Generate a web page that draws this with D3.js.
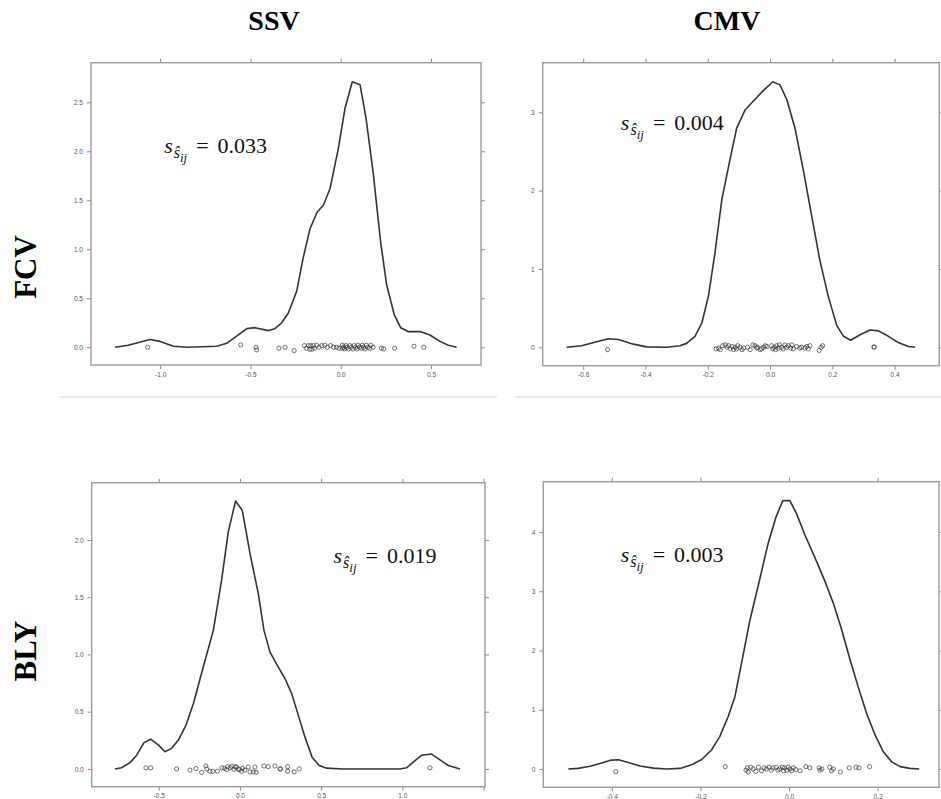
<!DOCTYPE html>
<html>
<head>
<meta charset="utf-8">
<script src="https://cdn.jsdelivr.net/npm/d3@7"></script>
<style>
  html, body { margin: 0; padding: 0; background: #fff; }
  svg { display: block; }
</style>
</head>
<body>
<svg id="chart" width="941" height="799"></svg>
<script>
// ---------------- DATA ----------------
const columnTitles = ["SSV", "CMV"];
const rowTitles = ["FCV", "BLY"];

// density curves [x, density]
const fcvSsvCurve = [[-1.25,0],[-1.177,0.02],[-1.056,0.08],[-1.0,0.06],[-0.927,0.01],[-0.85,0],[-0.687,0.01],[-0.631,0.04],[-0.558,0.14],[-0.52,0.19],[-0.475,0.2],[-0.4,0.17],[-0.364,0.19],[-0.327,0.25],[-0.29,0.35],[-0.244,0.57],[-0.207,0.92],[-0.17,1.21],[-0.13,1.38],[-0.096,1.45],[-0.059,1.62],[-0.013,2.03],[0.024,2.44],[0.064,2.71],[0.107,2.68],[0.14,2.34],[0.18,1.78],[0.22,1.09],[0.254,0.64],[0.297,0.33],[0.332,0.2],[0.374,0.16],[0.44,0.16],[0.494,0.125],[0.55,0.06],[0.596,0.02],[0.642,0]];
const fcvCmvCurve = [[-0.653,0],[-0.605,0.02],[-0.557,0.07],[-0.519,0.11],[-0.487,0.1],[-0.439,0.04],[-0.396,0.005],[-0.332,0],[-0.289,0.02],[-0.268,0.05],[-0.241,0.14],[-0.219,0.31],[-0.198,0.65],[-0.177,1.2],[-0.155,1.88],[-0.131,2.35],[-0.107,2.8],[-0.08,3.03],[-0.054,3.14],[-0.021,3.28],[0.009,3.39],[0.032,3.35],[0.054,3.16],[0.08,2.8],[0.107,2.26],[0.134,1.67],[0.16,1.11],[0.187,0.65],[0.214,0.28],[0.236,0.14],[0.259,0.09],[0.289,0.16],[0.321,0.22],[0.348,0.21],[0.38,0.14],[0.412,0.06],[0.444,0.01],[0.466,0]];
const blySsvCurve = [[-0.77,0],[-0.729,0.01],[-0.677,0.055],[-0.636,0.12],[-0.591,0.23],[-0.55,0.26],[-0.503,0.21],[-0.462,0.15],[-0.421,0.18],[-0.38,0.25],[-0.333,0.38],[-0.287,0.57],[-0.226,0.89],[-0.164,1.21],[-0.113,1.65],[-0.072,2.07],[-0.027,2.34],[0.014,2.26],[0.062,1.88],[0.113,1.53],[0.148,1.21],[0.185,1.02],[0.236,0.89],[0.277,0.79],[0.318,0.66],[0.359,0.47],[0.4,0.28],[0.445,0.1],[0.488,0.03],[0.534,0.007],[0.636,0],[0.985,0],[1.026,0.01],[1.067,0.06],[1.119,0.12],[1.18,0.13],[1.232,0.08],[1.283,0.03],[1.355,0]];
const blyCmvCurve = [[-0.498,0],[-0.476,0.01],[-0.449,0.045],[-0.423,0.1],[-0.401,0.15],[-0.385,0.155],[-0.363,0.11],[-0.336,0.05],[-0.306,0.015],[-0.276,0],[-0.246,0.01],[-0.22,0.07],[-0.197,0.16],[-0.175,0.32],[-0.156,0.55],[-0.137,0.89],[-0.122,1.22],[-0.107,1.79],[-0.088,2.52],[-0.069,3.11],[-0.047,3.81],[-0.029,4.26],[-0.014,4.53],[0.002,4.53],[0.017,4.31],[0.036,3.95],[0.059,3.56],[0.081,3.17],[0.1,2.8],[0.119,2.35],[0.138,1.84],[0.156,1.39],[0.175,0.94],[0.194,0.58],[0.213,0.29],[0.232,0.12],[0.251,0.04],[0.273,0.01],[0.294,0]];

// observed points [x, jittered y]
const fcvSsvPoints = [[-1.069,0],[-0.554,0.024],[-0.469,0],[-0.466,-0.027],[-0.342,-0.01],[-0.308,0],[-0.258,-0.034],[-0.201,0.017],[-0.19,-0.01],[-0.179,0.017],[-0.172,-0.02],[-0.166,0.017],[-0.16,-0.02],[-0.152,0.017],[-0.145,-0.01],[-0.134,0.02],[-0.12,0],[-0.105,0.017],[-0.088,0.02],[-0.075,0],[-0.056,0.017],[-0.04,0],[-0.023,0],[-0.01,-0.01],[0.009,0.02],[0.009,-0.01],[0.016,0],[0.022,-0.017],[0.029,0.017],[0.035,0],[0.042,-0.017],[0.05,0.017],[0.058,0],[0.068,-0.017],[0.075,0.017],[0.083,0],[0.09,-0.017],[0.096,0.02],[0.104,0],[0.114,-0.01],[0.12,0.02],[0.127,0],[0.135,-0.017],[0.142,0.02],[0.15,0],[0.16,-0.01],[0.167,0.02],[0.179,0],[0.225,-0.01],[0.238,-0.017],[0.299,-0.01],[0.406,0.01],[0.46,0]];
const fcvCmvPoints = [[-0.522,-0.03],[-0.173,-0.02],[-0.165,-0.01],[-0.16,-0.03],[-0.152,0.02],[-0.144,0.03],[-0.138,0],[-0.133,0.02],[-0.128,-0.02],[-0.122,0.01],[-0.117,-0.03],[-0.112,0],[-0.108,-0.02],[-0.104,0.02],[-0.096,0],[-0.09,-0.03],[-0.085,-0.01],[-0.072,0],[-0.064,-0.03],[-0.055,0.03],[-0.048,0.02],[-0.043,-0.01],[-0.04,0],[-0.032,-0.03],[-0.027,-0.02],[-0.021,0],[-0.015,0.02],[-0.01,0.01],[0.005,0.02],[0.009,-0.02],[0.013,0],[0.018,-0.03],[0.021,0.02],[0.026,-0.01],[0.03,0.03],[0.037,0],[0.042,-0.02],[0.048,0.03],[0.053,0],[0.059,0.02],[0.066,-0.01],[0.07,0.03],[0.075,-0.02],[0.085,0.01],[0.095,-0.01],[0.101,0],[0.112,-0.01],[0.118,0.01],[0.123,-0.02],[0.128,0.02],[0.158,-0.04],[0.164,0],[0.169,0.02],[0.334,0],[0.334,0.005]];
const blySsvPoints = [[-0.579,0.01],[-0.55,0.01],[-0.39,0],[-0.308,-0.01],[-0.271,0.003],[-0.236,-0.03],[-0.21,0.026],[-0.205,0],[-0.185,-0.02],[-0.168,-0.02],[-0.139,-0.02],[-0.111,0.01],[-0.095,0.005],[-0.082,-0.006],[-0.076,0.02],[-0.06,0.01],[-0.051,0.023],[-0.037,-0.003],[-0.03,0.02],[-0.021,0.017],[-0.01,0],[-0.004,-0.006],[0.01,-0.02],[0.016,0.006],[0.03,-0.01],[0.051,0.017],[0.062,-0.026],[0.082,-0.026],[0.092,0.017],[0.099,-0.03],[0.148,0.026],[0.174,0.02],[0.215,0.026],[0.246,0],[0.25,0],[0.293,0.02],[0.293,-0.02],[0.334,-0.026],[0.365,0],[1.17,0.01]];
const blyCmvPoints = [[-0.391,-0.045],[-0.144,0.04],[-0.097,-0.02],[-0.094,0.02],[-0.092,-0.05],[-0.086,0.03],[-0.081,0],[-0.075,-0.04],[-0.069,0.03],[-0.062,-0.03],[-0.056,0.02],[-0.051,0],[-0.045,0.03],[-0.04,-0.02],[-0.036,0.02],[-0.029,0.03],[-0.025,-0.02],[-0.021,0],[-0.015,0.03],[-0.012,-0.03],[-0.01,0.02],[-0.005,-0.02],[-0.002,0.03],[0.002,0],[0.006,-0.03],[0.01,0.02],[0.015,-0.01],[0.025,-0.03],[0.038,0.04],[0.047,0.02],[0.068,0.02],[0.07,-0.02],[0.074,0],[0.092,0.03],[0.096,-0.03],[0.1,0],[0.116,-0.05],[0.136,0.02],[0.151,0.03],[0.158,0.02],[0.182,0.04]];

// tick values
const fcvSsvXTicks = [-1.0, -0.5, 0.0, 0.5];
const fcvSsvYTicks = [0, 0.5, 1.0, 1.5, 2.0, 2.5];
const fcvCmvXTicks = [-0.6, -0.4, -0.2, 0.0, 0.2, 0.4];
const fcvCmvYTicks = [0, 1, 2, 3];
const blySsvXTicks = [-0.5, 0.0, 0.5, 1.0, 1.5];
const blySsvYTicks = [0, 0.5, 1.0, 1.5, 2.0];
const blyCmvXTicks = [-0.4, -0.2, 0.0, 0.2];
const blyCmvYTicks = [0, 1, 2, 3, 4];

// annotation values (standard deviation)
const sdValues = ["0.033", "0.004", "0.019", "0.003"];

// ---------------- LAYOUT ----------------
const panels = [
  { curve: fcvSsvCurve, pts: fcvSsvPoints, xt: fcvSsvXTicks, yt: fcvSsvYTicks, xLab: [-1.0,-0.5,0.0,0.5], yDec: 1,
    box: [91, 62.7, 481, 365], xd: [-1.383, 0.777], yd: [-0.181, 2.904], ann: [-0.978, 1.98], sd: sdValues[0] },
  { curve: fcvCmvCurve, pts: fcvCmvPoints, xt: fcvCmvXTicks, yt: fcvCmvYTicks, xLab: fcvCmvXTicks, yDec: 0,
    box: [542.7, 62.7, 939.3, 365.7], xd: [-0.730, 0.5435], yd: [-0.235, 3.633], ann: [-0.479, 2.78], sd: sdValues[1] },
  { curve: blySsvCurve, pts: blySsvPoints, xt: blySsvXTicks, yt: blySsvYTicks, xLab: [-0.5,0.0,0.5,1.0], yDec: 1,
    box: [91.7, 482.7, 485, 786.7], xd: [-0.913, 1.509], yd: [-0.155, 2.50], ann: [0.576, 1.80], sd: sdValues[2] },
  { curve: blyCmvCurve, pts: blyCmvPoints, xt: blyCmvXTicks, yt: blyCmvYTicks, xLab: blyCmvXTicks, yDec: 0,
    box: [543.3, 481.7, 939, 787.3], xd: [-0.5546, 0.3386], yd: [-0.309, 4.849], ann: [-0.380, 3.49], sd: sdValues[3] }
];

const svg = d3.select("#chart");
svg.append("rect").attr("width", 941).attr("height", 799).attr("fill", "#fff");

const boxColor = "#9a9a9a";
const tickColor = "#8a8a8a";
const labColor = "#555";

panels.forEach(p => {
  const [x0, y0, x1, y1] = p.box;
  const x = d3.scaleLinear().domain(p.xd).range([x0, x1]);
  const y = d3.scaleLinear().domain(p.yd).range([y1, y0]);
  const g = svg.append("g");

  const fmtX = d => p.xLab.some(v => Math.abs(v - d) < 1e-9) ? d.toFixed(1) : "";
  const fmtY = d => d.toFixed(p.yDec);

  const styleAxis = sel => {
    sel.select(".domain").remove();
    sel.selectAll("line").attr("stroke", tickColor).attr("stroke-width", 1);
    sel.selectAll("text").attr("fill", labColor)
      .attr("font-family", "Liberation Sans, Arial, sans-serif").attr("font-size", 6.5);
  };

  g.append("g").attr("transform", `translate(0,${y1})`)
    .call(d3.axisBottom(x).tickValues(p.xt).tickFormat(fmtX).tickSize(4).tickSizeOuter(0).tickPadding(3))
    .call(styleAxis);
  g.append("g").attr("transform", `translate(0,${y0})`)
    .call(d3.axisTop(x).tickValues(p.xt).tickFormat("").tickSize(4).tickSizeOuter(0))
    .call(styleAxis);
  g.append("g").attr("transform", `translate(${x0},0)`)
    .call(d3.axisLeft(y).tickValues(p.yt).tickFormat(fmtY).tickSize(4).tickSizeOuter(0).tickPadding(4))
    .call(styleAxis);
  g.append("g").attr("transform", `translate(${x1},0)`)
    .call(d3.axisRight(y).tickValues(p.yt).tickFormat("").tickSize(4).tickSizeOuter(0))
    .call(styleAxis);

  g.append("rect").attr("x", x0).attr("y", y0).attr("width", x1 - x0).attr("height", y1 - y0)
    .attr("fill", "none").attr("stroke", boxColor).attr("stroke-width", 1.4);

  // jittered points
  g.append("g").selectAll("circle").data(p.pts).join("circle")
    .attr("cx", d => x(d[0])).attr("cy", d => y(d[1])).attr("r", 2.1)
    .attr("fill", "none").attr("stroke", "#3a3a3a").attr("stroke-opacity", 0.8).attr("stroke-width", 0.9);

  // density line
  g.append("path").datum(p.curve)
    .attr("d", d3.line().x(d => x(d[0])).y(d => y(d[1])))
    .attr("fill", "none").attr("stroke", "#333").attr("stroke-width", 1.6).attr("stroke-linejoin", "round");

  // annotation s_{ŝ_ij} = value
  const t = g.append("text")
    .attr("x", x(p.ann[0])).attr("y", y(p.ann[1]))
    .attr("font-family", "Liberation Serif, Times New Roman, serif").attr("font-size", 22).attr("fill", "#111");
  t.append("tspan").attr("font-style", "italic").text("s");
  t.append("tspan").attr("font-style", "italic").attr("font-size", 16).attr("dx", 1).attr("dy", 5).text("ŝ");
  t.append("tspan").attr("font-style", "italic").attr("font-size", 13).attr("dy", 4).text("ij");
  t.append("tspan").attr("dx", 9).attr("dy", -9).text("=");
  t.append("tspan").attr("dx", 9).text(p.sd);
});

// separators
svg.append("line").attr("x1", 60).attr("x2", 497).attr("y1", 397).attr("y2", 397)
  .attr("stroke", "#cfcfcf").attr("stroke-width", 1);
svg.append("line").attr("x1", 515).attr("x2", 941).attr("y1", 397).attr("y2", 397)
  .attr("stroke", "#cfcfcf").attr("stroke-width", 1);

// column titles
const colX = [274, 727];
columnTitles.forEach((c, i) => {
  svg.append("text").attr("x", colX[i]).attr("y", 30).attr("text-anchor", "middle")
    .attr("font-family", "Liberation Serif, Times New Roman, serif").attr("font-weight", "bold")
    .attr("font-size", 28).attr("fill", "#000").text(c);
});
// row titles
const rowY = [267, 651];
rowTitles.forEach((r, i) => {
  svg.append("text").attr("transform", `translate(36,${rowY[i]}) rotate(-90)`)
    .attr("text-anchor", "middle")
    .attr("font-family", "Liberation Serif, Times New Roman, serif").attr("font-weight", "bold")
    .attr("font-size", 31).attr("fill", "#000").text(r);
});
</script>
</body>
</html>
